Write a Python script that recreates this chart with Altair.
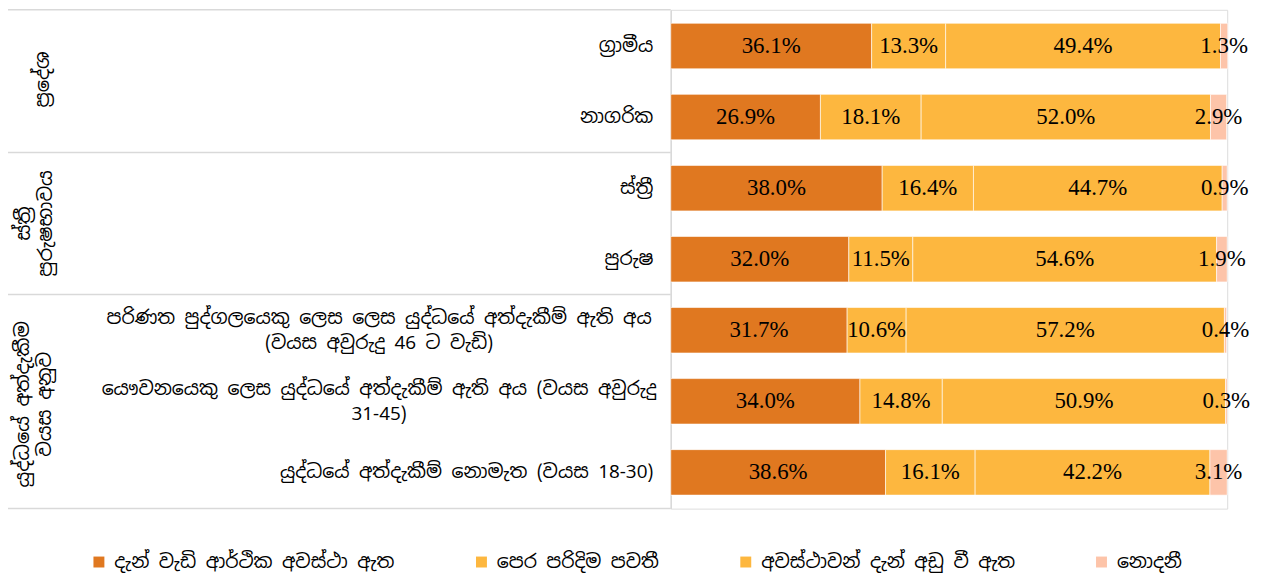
import altair as alt
import pandas as pd

rows = [
    "ග්‍රාමීය",
    "නාගරික",
    "ස්ත්‍රී",
    "පුරුෂ",
    "පරිණත පුද්ගලයෙකු ලෙස  ලෙස යුද්ධයේ  අත්දැකීම් ඇති අය|(වයස අවුරුදු 46 ට වැඩි)",
    "යෞවනයෙකු ලෙස යුද්ධයේ  අත්දැකීම් ඇති අය (වයස අවුරුදු|31-45)",
    "යුද්ධයේ අත්දැකීම් නොමැත (වයස 18-30)",
]
series = [
    "දැන් වැඩි ආර්ථික අවස්ථා ඇත",
    "පෙර පරිදිම පවතී",
    "අවස්ථාවන් දැන් අඩු වී ඇත",
    "නොදනී",
]
more_now = [36.1, 26.9, 38.0, 32.0, 31.7, 34.0, 38.6]
same_as_before = [13.3, 18.1, 16.4, 11.5, 10.6, 14.8, 16.1]
less_now = [49.4, 52.0, 44.7, 54.6, 57.2, 50.9, 42.2]
dont_know = [1.3, 2.9, 0.9, 1.9, 0.4, 0.3, 3.1]
colors = ["#E07820", "#FDB73F", "#FDB73F", "#FDC4A9"]
groups = [["ප්‍රදේශ"], ["ස්ත්‍රී", "පුරුෂභාවය"], ["යුද්ධයේ අත්දැකීම", "වයස අනුව"]]

recs = []
for si, (s, vals) in enumerate(zip(series, [more_now, same_as_before, less_now, dont_know])):
    for r, v in zip(rows, vals):
        recs.append({"row": r, "series": s, "si": si, "value": v, "label": f"{v:.1f}%"})
df = pd.DataFrame(recs)

SIN = "Noto Sans Sinhala, Iskoola Pota, Noto Sans, sans-serif"
SERIF = "Liberation Serif, Times New Roman, serif"
MULTI = "indexof(datum.value, '|') >= 0"

yenc = alt.Y(
    "row:N",
    sort=rows,
    scale=alt.Scale(paddingInner=0.36, paddingOuter=0.19),
    axis=alt.Axis(
        title=None,
        labelExpr="split(datum.label, '|')",
        labelFontSize=19,
        labelFont=SIN,
        labelColor="black",
        labelPadding={"condition": {"test": MULTI, "value": 294}, "value": 18},
        labelAlign={"condition": {"test": MULTI, "value": "center"}, "value": "right"},
        labelOffset={"condition": {"test": MULTI, "value": -12}, "value": 0},
        labelLimit=700,
        labelLineHeight=25,
        ticks=False,
        domainColor="#d9d9d9",
        domainWidth=1.5,
    ),
)

base = alt.Chart(df)

bars = base.mark_bar(stroke="white", strokeWidth=0.6).encode(
    x=alt.X("value:Q", stack="zero", scale=alt.Scale(domain=[0, 100], nice=False), axis=None),
    y=yenc,
    color=alt.Color(
        "series:N",
        sort=series,
        scale=alt.Scale(domain=series, range=colors),
        legend=alt.Legend(
            title=None,
            orient="none",
            legendX=-585,
            legendY=546,
            direction="horizontal",
            symbolType="square",
            symbolSize=121,
            symbolStrokeWidth=0,
            labelFontSize=19,
            labelFont=SIN,
            labelColor="black",
            labelOffset=6,
            columnPadding=77,
            labelLimit=400,
        ),
    ),
    order=alt.Order("si:Q"),
)

texts = base.transform_stack(
    stack="value", groupby=["row"], sort=[alt.SortField("si")], as_=["x0", "x1"]
).transform_calculate(mid="(datum.x0 + datum.x1) / 2").mark_text(
    font=SERIF, fontSize=23, color="black", baseline="middle"
).encode(
    x=alt.X("mid:Q", scale=alt.Scale(domain=[0, 100], nice=False)),
    y=alt.Y("row:N", sort=rows),
    text="label:N",
)

one = pd.DataFrame({"k": [0]})
rules = [
    alt.Chart(one).mark_rule(color="#d9d9d9", strokeWidth=1.5).encode(
        x=alt.value(-667), x2=alt.value(0), y=alt.value(v)
    )
    for v in [0, 143.5, 286.5, 502]
]

gpos = [(-632, 70), (-651, 215), (-652, 397)]
glabels = [
    alt.Chart(one).mark_text(
        angle=270, font=SIN, fontSize=19.5, color="black", align="center", baseline="middle", lineHeight=22
    ).encode(x=alt.value(px), y=alt.value(py), text=alt.value(g))
    for g, (px, py) in zip(groups, gpos)
]

chart = alt.layer(bars, texts, *rules, *glabels).properties(
    width=560,
    height=502,
    autosize=alt.AutoSizeParams(type="none"),
    padding={"left": 667, "top": 0, "right": 30, "bottom": 67},
).configure_view(stroke=None).configure(background="white")

chart.save("out.html", embed_options={"renderer": "svg", "actions": False})
